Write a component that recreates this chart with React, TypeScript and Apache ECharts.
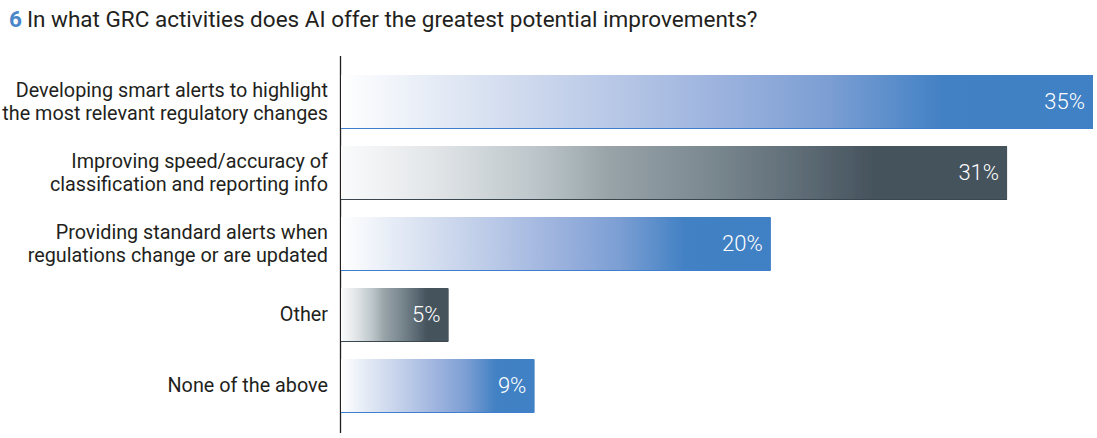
import React, { useEffect, useRef } from "react";
import * as echarts from "echarts";

const TITLE_NUMBER = "6";
const TITLE_TEXT = "In what GRC activities does AI offer the greatest potential improvements?";
const categories = [
  "Developing smart alerts to highlight\nthe most relevant regulatory changes",
  "Improving speed/accuracy of\nclassification and reporting info",
  "Providing standard alerts when\nregulations change or are updated",
  "Other",
  "None of the above",
];
const values = [35, 31, 20, 5, 9];
const barTheme = ["blue", "dark", "blue", "dark", "blue"];

const FONT = "Roboto, 'Open Sans', sans-serif";

function gradientFor(theme: string) {
  if (theme === "blue") {
    return new echarts.graphic.LinearGradient(0, 0, 1, 0, [
      { offset: 0, color: "#ffffff" },
      { offset: 0.12, color: "#e6ecf6" },
      { offset: 0.3, color: "#c4d1ea" },
      { offset: 0.5, color: "#9db3de" },
      { offset: 0.65, color: "#7b9ed3" },
      { offset: 0.8, color: "#4281c4" },
      { offset: 1, color: "#4080c4" },
    ]);
  }
  return new echarts.graphic.LinearGradient(0, 0, 1, 0, [
    { offset: 0, color: "#fafbfb" },
    { offset: 0.13, color: "#e4e7ea" },
    { offset: 0.3, color: "#bac4c8" },
    { offset: 0.4, color: "#99a4a9" },
    { offset: 0.55, color: "#7b8991" },
    { offset: 0.7, color: "#5c6a74" },
    { offset: 0.8, color: "#45535d" },
    { offset: 1, color: "#45535d" },
  ]);
}

export default function App() {
  const ref = useRef<HTMLDivElement>(null);
  useEffect(() => {
    document.body.style.margin = "0";
    const chart = echarts.init(ref.current!, undefined, { renderer: "svg" });
    chart.setOption({
      animation: false,
      title: {
        text: "{n|" + TITLE_NUMBER + "} {t|" + TITLE_TEXT + "}",
        left: 4,
        top: 2,
        textStyle: {
          fontWeight: "normal",
          rich: {
            n: { fontFamily: FONT, fontSize: 22.5, fontWeight: "bold", color: "#4a86c8" },
            t: { fontFamily: FONT, fontSize: 22.5, fontWeight: "normal", color: "#231f20" },
          },
        },
      },
      grid: { left: 341, right: 4, top: 66, height: 355, containLabel: false, outerBoundsMode: "none" },
      xAxis: { type: "value", min: 0, max: 35, show: false },
      yAxis: {
        type: "category",
        inverse: true,
        data: categories,
        axisLine: { show: false },
        axisTick: { show: false },
        axisLabel: {
          margin: 13,
          fontFamily: FONT,
          fontSize: 19.8,
          lineHeight: 23,
          color: "#231f20",
          align: "right",
        },
      },
      graphic: [
        {
          type: "line",
          shape: { x1: 340.5, y1: 56, x2: 340.5, y2: 433 },
          style: { stroke: "#231f20", lineWidth: 1.3 },
        },
      ],
      series: [
        {
          type: "bar",
          barWidth: 53,
          data: values.map((v, i) => ({
            value: v,
            itemStyle: {
              color: gradientFor(barTheme[i]),
              shadowColor: barTheme[i] === "blue" ? "#3d7fcc" : "#3a4750",
              shadowOffsetY: 1,
              shadowBlur: 0,
            },
          })),
          label: {
            show: true,
            position: "insideRight",
            distance: 8,
            formatter: "{c}%",
            fontFamily: FONT,
            fontSize: 22,
            fontWeight: 300,
            color: "#ffffff",
          },
        },
      ],
    });
    return () => chart.dispose();
  }, []);
  return <div ref={ref} style={{ width: 1097, height: 438 }} />;
}
